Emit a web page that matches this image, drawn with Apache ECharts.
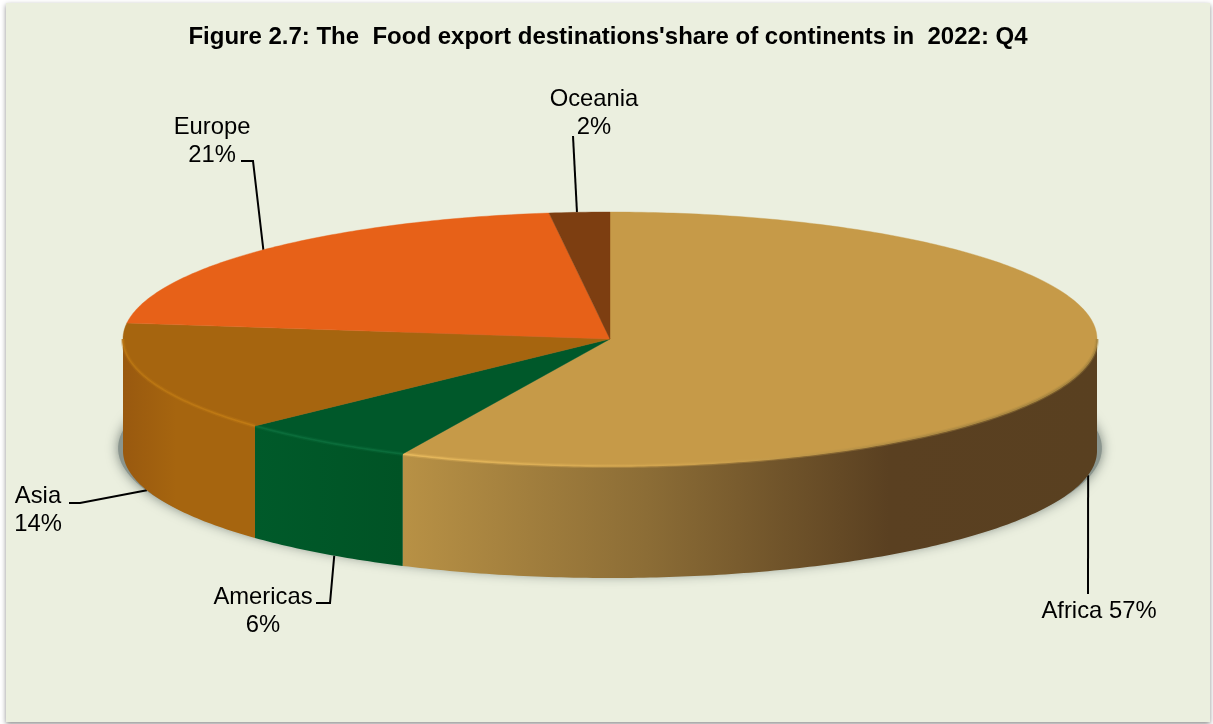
<!DOCTYPE html>
<html>
<head>
<meta charset="utf-8">
<style>
  html, body { margin: 0; padding: 0; background: #ffffff; }
  #chart { width: 1213px; height: 724px; }
</style>
<script src="https://cdn.jsdelivr.net/npm/echarts@6/dist/echarts.min.js"></script>
</head>
<body>
<div id="chart"></div>
<script>
// Food export destinations by continent, share in percent
const continents = ['Africa', 'Americas', 'Asia', 'Europe', 'Oceania'];
const shares = [57, 6, 14, 21, 2];
const titleText = "Figure 2.7: The  Food export destinations'share of continents in  2022: Q4";

// Slice styling
const topColors = ['#C69A48', '#00582A', '#A6650F', '#E76118', '#7D3E11'];
const wallStops = [
  [[0, '#B89145'], [0.35, '#8C6D36'], [0.7, '#5A4021'], [1, '#594020']],
  [[0, '#005A2A'], [1, '#005325']],
  [[0, '#99590F'], [0.4, '#A6650F'], [1, '#A6650F']],
  [[0, '#E76118'], [1, '#E76118']],
  [[0, '#7D3E11'], [1, '#7D3E11']]
];
const rimStops = [
  [[0, '#E6B85C'], [0.4, '#D0A34E'], [0.75, '#B08C44'], [1, '#A8863F']],
  [[0, '#0A6C3A'], [1, '#0A6C3A']],
  [[0, '#B87412'], [1, '#C07A14']],
  [[0, '#E76118'], [1, '#E76118']],
  [[0, '#7D3E11'], [1, '#7D3E11']]
];

// Callout layout: label centre, leader bend points, and where on the slice it lands
const labelCentres = [[1099, 611], [263, 611], [38, 510], [212, 141], [594, 113]];
const labelBreaks = [' ', '\n', '\n', '\n', '\n'];
const leaderBends = [
  [[1088, 594]],
  [[316, 603], [330, 603]],
  [[69, 503], [80, 503]],
  [[241, 161], [253, 161]],
  [[573, 136]]
];
const leaderFraction = [0.492, 0.43, 0.5, 0.495, 0.46];

// Pie plate: the unit circle lives on hidden axes, the grid squashes it into an ellipse
const plate = { left: 123, top: 212, width: 974, height: 254 };
const wallDepth = 112 / 127; // in y-axis units
const shadowDepth = 0.86;    // the drop shadow sits just inside the base at the front
const shadowSpread = 1.01;   // horizontal reach of the drop shadow past the base

const total = shares.reduce((a, b) => a + b, 0);
const startAngles = [];
shares.reduce((acc, v, i) => { startAngles[i] = acc; return acc + v; }, 0);
const toAngle = v => (v / total) * 2 * Math.PI;

function rimPoint(api, theta, depth, spread) {
  return api.coord([Math.sin(theta) * (spread || 1), Math.cos(theta) - (depth || 0)]);
}

function arcPoints(api, from, to, depth, spread) {
  const steps = Math.max(2, Math.ceil((to - from) / (Math.PI / 240)));
  const pts = [];
  for (let k = 0; k <= steps; k++) {
    pts.push(rimPoint(api, from + (to - from) * k / steps, depth, spread));
  }
  return pts;
}

function xGradient(x0, x1, stops) {
  return new echarts.graphic.LinearGradient(
    x0, 0, x1, 0,
    stops.map(s => ({ offset: s[0], color: s[1] })),
    true
  );
}

// Soft grey shadow the pie drops around its base
function renderBase(params, api) {
  return {
    type: 'polygon',
    shape: { points: arcPoints(api, 0, 2 * Math.PI, shadowDepth, shadowSpread) },
    style: {
      fill: '#8A958E',
      shadowColor: 'rgba(115,125,118,0.95)',
      shadowBlur: 12
    }
  };
}

function renderLeader(params, api) {
  const i = api.value(2);
  const from = toAngle(api.value(1));
  const sweep = toAngle(api.value(0));
  const theta = from + sweep * leaderFraction[i];
  const depth = Math.cos(theta) < 0 ? wallDepth : 0;
  const pts = leaderBends[i].concat([rimPoint(api, theta, depth)]);
  return {
    type: 'polyline',
    shape: { points: pts },
    style: { fill: 'none', stroke: '#000000', lineWidth: 2 }
  };
}

function renderSlice(params, api) {
  const i = api.value(2);
  const from = toAngle(api.value(1));
  const to = from + toAngle(api.value(0));
  const children = [];

  // Front wall only exists on the lower half of the ellipse
  const wFrom = Math.max(from, Math.PI / 2);
  const wTo = Math.min(to, 3 * Math.PI / 2);
  if (wTo > wFrom) {
    const upper = arcPoints(api, wFrom, wTo, 0);
    const lower = arcPoints(api, wFrom, wTo, wallDepth).reverse();
    const xs = upper.map(p => p[0]);
    const x0 = Math.min.apply(null, xs);
    const x1 = Math.max.apply(null, xs);
    // Gradients run left to right across the visible wall
    children.push({
      type: 'polygon',
      shape: { points: upper.concat(lower) },
      style: { fill: xGradient(x0, x1, wallStops[i]) }
    });
  }

  // Top face
  const centre = api.coord([0, 0]);
  children.push({
    type: 'polygon',
    shape: { points: [centre].concat(arcPoints(api, from, to, 0)) },
    style: { fill: topColors[i], stroke: topColors[i], lineWidth: 0.4 }
  });

  // Bevel catching the light along the front edge: a wide faint pass under a narrow one
  if (wTo > wFrom) {
    const edge = arcPoints(api, wFrom, wTo, 0);
    const xs = edge.map(p => p[0]);
    const stroke = xGradient(Math.min.apply(null, xs), Math.max.apply(null, xs), rimStops[i]);
    children.push({
      type: 'polyline',
      shape: { points: edge },
      style: { fill: 'none', lineWidth: 4, opacity: 0.35, stroke: stroke }
    });
    children.push({
      type: 'polyline',
      shape: { points: edge },
      style: { fill: 'none', lineWidth: 1.6, stroke: stroke }
    });
  }
  return { type: 'group', children: children };
}

function renderLabel(params, api) {
  const i = api.value(2);
  const c = labelCentres[i];
  return {
    type: 'text',
    style: {
      x: c[0],
      y: c[1],
      text: continents[i] + labelBreaks[i] + api.value(0) + '%',
      fill: '#000000',
      font: '23.8px "Liberation Sans", Arial, sans-serif',
      lineHeight: 28,
      align: 'center',
      verticalAlign: 'middle'
    }
  };
}

const rows = shares.map((v, i) => [v, startAngles[i], i]);
const encodeNone = { x: -1, y: -1 };

const chart = echarts.init(document.getElementById('chart'), null, { renderer: 'canvas' });
chart.setOption({
  animation: false,
  backgroundColor: '#ffffff',
  title: {
    text: titleText,
    left: 603,
    top: 20,
    textAlign: 'center',
    textStyle: {
      fontFamily: '"Liberation Sans", Arial, sans-serif',
      fontWeight: 'bold',
      fontSize: 24,
      color: '#000000'
    }
  },
  graphic: [{
    type: 'rect',
    z: -10,
    shape: { x: 6, y: 3, width: 1204, height: 719 },
    style: {
      fill: '#EBEFDF',
      shadowColor: 'rgba(0,0,0,0.45)',
      shadowBlur: 5,
      shadowOffsetX: 0,
      shadowOffsetY: 2
    }
  }],
  grid: Object.assign({ containLabel: false }, plate),
  xAxis: { type: 'value', min: -1, max: 1, show: false },
  yAxis: { type: 'value', min: -1, max: 1, show: false },
  series: [
    { type: 'custom', z: 2, silent: true, clip: false, data: [[0, 0, 0]], encode: encodeNone, renderItem: renderBase },
    { type: 'custom', z: 3, silent: true, clip: false, data: rows, encode: encodeNone, renderItem: renderLeader },
    { type: 'custom', z: 4, silent: true, clip: false, data: rows, encode: encodeNone, renderItem: renderSlice },
    { type: 'custom', z: 5, silent: true, clip: false, data: rows, encode: encodeNone, renderItem: renderLabel }
  ]
});
</script>
</body>
</html>
